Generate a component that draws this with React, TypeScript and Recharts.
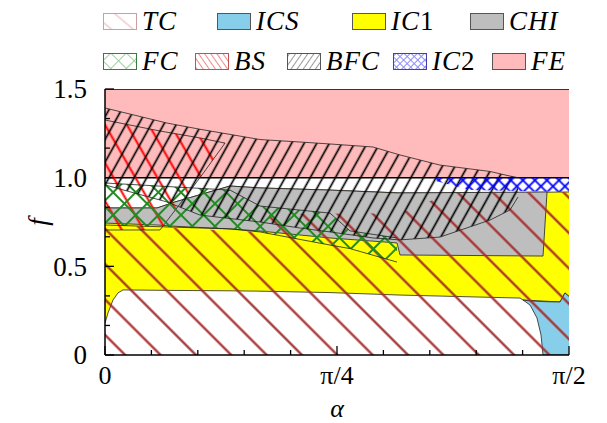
import { ComposedChart, Area, XAxis, YAxis, Legend } from 'recharts';

// alpha is given in degrees (0..90 <=> 0..pi/2), f is dimensionless
const alphaTicks = [0, 9, 18, 27, 36, 45, 54, 63, 72, 81, 90];
const alphaLabels: Record<number, string> = { 0: '0', 45: 'π/4', 90: 'π/2' };
const fTicks = [0, 1 / 6, 2 / 6, 0.5, 4 / 6, 5 / 6, 1, 7 / 6, 8 / 6, 1.5];
const fLabels = ['0', '', '', '0.5', '', '', '1.0', '', '', '1.5'];

// each phase region: alpha -> [lower f, upper f]
const feRegion = [
  { a: 0, r: [1.0, 1.5] },
  { a: 90, r: [1.0, 1.5] },
];

const ic1Region = [
  { a: 0, r: [0.18, 0.829] },
  { a: 0.58, r: [0.237, 0.829] },
  { a: 1.55, r: [0.31, 0.829] },
  { a: 2.52, r: [0.35, 0.829] },
  { a: 3.49, r: [0.367, 0.829] },
  { a: 10.09, r: [0.365, 0.829] },
  { a: 13.58, r: [0.364, 0.863] },
  { a: 24.25, r: [0.362, 0.953] },
  { a: 30.07, r: [0.36, 0.942] },
  { a: 43.64, r: [0.352, 0.93] },
  { a: 57.22, r: [0.338, 0.914] },
  { a: 80.5, r: [0.321, 0.915] },
  { a: 81.08, r: [0.31, 0.916] },
  { a: 88.26, r: [0.299, 0.919] },
  { a: 89.22, r: [0.35, 0.919] },
  { a: 90, r: [0.33, 0.919] },
];

const icsRegion = [
  { a: 81.08, r: [0.31, 0.31] },
  { a: 82.44, r: [0.282, 0.305] },
  { a: 83.79, r: [0.209, 0.303] },
  { a: 84.57, r: [0.113, 0.302] },
  { a: 84.96, r: [0, 0.301] },
  { a: 88.26, r: [0, 0.299] },
  { a: 89.22, r: [0, 0.35] },
  { a: 90, r: [0, 0.33] },
];

const chiRegion = [
  { a: 0, r: [0.744, 0.829] },
  { a: 10.09, r: [0.733, 0.829] },
  { a: 13.58, r: [0.726, 0.863] },
  { a: 24.25, r: [0.711, 0.953] },
  { a: 30.07, r: [0.699, 0.942] },
  { a: 43.64, r: [0.66, 0.93] },
  { a: 56.64, r: [0.632, 0.914] },
  { a: 57.22, r: [0.564, 0.914] },
  { a: 84.96, r: [0.558, 0.919] },
  { a: 85.74, r: [0.919, 0.919] },
];

const tcRegion = [
  { a: 0, r: [0, 0.733] },
  { a: 30.07, r: [0, 0.694] },
  { a: 32.0, r: [0, 0.795] },
  { a: 57.22, r: [0, 0.8] },
  { a: 66.92, r: [0, 0.914] },
  { a: 90, r: [0, 0.919] },
];

const bsRegion = [
  { a: 0, r: [0.705, 1.325] },
  { a: 10.67, r: [0.705, 1.263] },
  { a: 18.43, r: [1.0, 1.224] },
  { a: 23.28, r: [1.195, 1.195] },
];

const fcRegion = [
  { a: 0, r: [0.733, 0.97] },
  { a: 24.25, r: [0.711, 0.93] },
  { a: 30.07, r: [0.694, 0.84] },
  { a: 43.64, r: [0.62, 0.8] },
  { a: 47.52, r: [0.6, 0.7] },
  { a: 56.64, r: [0.524, 0.66] },
];

const bfcRegion = [
  { a: 0, r: [0.959, 1.393] },
  { a: 12.03, r: [0.863, 1.308] },
  { a: 18.43, r: [0.789, 1.273] },
  { a: 30.07, r: [0.75, 1.215] },
  { a: 37.82, r: [0.716, 1.201] },
  { a: 43.64, r: [0.694, 1.19] },
  { a: 51.98, r: [0.66, 1.173] },
  { a: 57.22, r: [0.649, 1.128] },
  { a: 64.98, r: [0.665, 1.071] },
  { a: 74.68, r: [0.761, 1.035] },
  { a: 78.56, r: [0.818, 1.009] },
  { a: 80.11, r: [0.891, 1.0] },
];

const ic2Region = [
  { a: 63.43, r: [0.987, 1.0] },
  { a: 70.8, r: [0.93, 1.0] },
  { a: 90, r: [0.919, 1.0] },
];

const legendNames = ['TC', 'ICS', 'IC1', 'CHI', 'FC', 'BS', 'BFC', 'IC2', 'FE'];

const FONT = "'Liberation Serif', 'DejaVu Serif', serif";

const BottomTick = (props: any) => {
  const { x, y, payload, index } = props;
  const major = index % 5 === 0;
  return (
    <g>
      <line x1={x} y1={y} x2={x} y2={y - (major ? 9 : 5)} stroke="#000" strokeWidth={1.3} />
      {major && (
        <text x={x} y={y + 29} textAnchor="middle" fontFamily={FONT} fontSize={26} fill="#000">
          {alphaLabels[payload.value]}
        </text>
      )}
    </g>
  );
};

const TopTick = (props: any) => {
  const { x, y, index } = props;
  const major = index % 5 === 0;
  return <line x1={x} y1={y} x2={x} y2={y + (major ? 9 : 5)} stroke="#000" strokeWidth={1.3} />;
};

const LeftTick = (props: any) => {
  const { x, y, index } = props;
  const major = index % 3 === 0;
  return (
    <g>
      <line x1={x} y1={y} x2={x + (major ? 9 : 5)} y2={y} stroke="#000" strokeWidth={1.3} />
      {major && (
        <text x={x - 18} y={y} dy="0.35em" textAnchor="end" fontFamily={FONT} fontSize={27} fill="#000">
          {fLabels[index]}
        </text>
      )}
    </g>
  );
};

const RightTick = (props: any) => {
  const { x, y, index } = props;
  const major = index % 3 === 0;
  return <line x1={x} y1={y} x2={x - (major ? 9 : 5)} y2={y} stroke="#000" strokeWidth={1.3} />;
};

const Swatch = ({ name }: { name: string }) => {
  const id = `lg-${name}`;
  const w = 34;
  const h = 17;
  let fill = '#fff';
  let border = '#555';
  let pat: any = null;
  if (name === 'TC') {
    border = '#c9a0a0';
    pat = (
      <pattern id={id} width="14" height="14" patternUnits="userSpaceOnUse" patternTransform="rotate(-50)">
        <line x1="7" y1="0" x2="7" y2="14" stroke="#eab0b0" strokeWidth="1" />
      </pattern>
    );
  } else if (name === 'ICS') fill = '#87ceeb';
  else if (name === 'IC1') fill = '#ffff00';
  else if (name === 'CHI') fill = '#bebebe';
  else if (name === 'FE') fill = '#ffbbbb';
  else if (name === 'FC') {
    border = '#3a7a3a';
    pat = (
      <pattern id={id} width="11" height="11" patternUnits="userSpaceOnUse" patternTransform="rotate(45)">
        <line x1="5.5" y1="0" x2="5.5" y2="11" stroke="#9fd09f" strokeWidth="1" />
        <line x1="0" y1="5.5" x2="11" y2="5.5" stroke="#9fd09f" strokeWidth="1" />
      </pattern>
    );
  } else if (name === 'BS') {
    border = '#c05050';
    pat = (
      <pattern id={id} width="5" height="5" patternUnits="userSpaceOnUse" patternTransform="rotate(-35)">
        <line x1="2.5" y1="0" x2="2.5" y2="5" stroke="#f08a8a" strokeWidth="1" />
      </pattern>
    );
  } else if (name === 'BFC') {
    border = '#555';
    pat = (
      <pattern id={id} width="5" height="5" patternUnits="userSpaceOnUse" patternTransform="rotate(35)">
        <line x1="2.5" y1="0" x2="2.5" y2="5" stroke="#999" strokeWidth="1" />
      </pattern>
    );
  } else if (name === 'IC2') {
    border = '#4040b0';
    pat = (
      <pattern id={id} width="5" height="5" patternUnits="userSpaceOnUse" patternTransform="rotate(45)">
        <line x1="2.5" y1="0" x2="2.5" y2="5" stroke="#8c8cff" strokeWidth="1" />
        <line x1="0" y1="2.5" x2="5" y2="2.5" stroke="#8c8cff" strokeWidth="1" />
      </pattern>
    );
  }
  return (
    <svg width={w} height={h} style={{ display: 'block' }}>
      {pat && <defs>{pat}</defs>}
      <rect x={0.5} y={0.5} width={w - 1} height={h - 1} fill={fill} stroke={border} strokeWidth={1} />
      {pat && <rect x={1} y={1} width={w - 2} height={h - 2} fill={`url(#${id})`} />}
    </svg>
  );
};

const LegendBox = () => {
  const spots = [
    [103, 13], [217, 13], [352, 13], [470, 13],
    [103, 53], [195, 53], [287, 53], [393, 53], [492, 53],
  ];
  return (
    <div style={{ position: 'relative', width: 607, height: 80 }}>
      {legendNames.map((name, i) => {
        const letters = name.replace(/\d/g, '');
        const digits = name.replace(/\D/g, '');
        return (
          <div
            key={name}
            style={{ position: 'absolute', left: spots[i][0], top: spots[i][1], display: 'flex', alignItems: 'center' }}
          >
            <Swatch name={name} />
            <span style={{ marginLeft: 5, fontFamily: FONT, fontSize: 27, lineHeight: '17px', letterSpacing: 1, color: '#000' }}>
              <i>{letters}</i>
              {digits}
            </span>
          </div>
        );
      })}
    </div>
  );
};

export default function App() {
  const outline = { stroke: '#222', strokeWidth: 0.8 };
  return (
    <div style={{ position: 'absolute', left: 0, top: 0, background: '#fff' }}>
      <ComposedChart width={607} height={423} margin={{ top: 9, right: 38, bottom: 8, left: 0 }}>
        <defs>
          <pattern id="hatchTC" width="25" height="25" patternUnits="userSpaceOnUse" patternTransform="rotate(-45)">
            <line x1="12.5" y1="0" x2="12.5" y2="25" stroke="#a52a2a" strokeWidth="2.2" />
          </pattern>
          <pattern id="hatchBS" width="19" height="19" patternUnits="userSpaceOnUse" patternTransform="rotate(-30)">
            <line x1="9.5" y1="0" x2="9.5" y2="19" stroke="#ff0000" strokeWidth="2" />
          </pattern>
          <pattern id="hatchBFC" width="11" height="11" patternUnits="userSpaceOnUse" patternTransform="rotate(29)">
            <line x1="5.5" y1="0" x2="5.5" y2="11" stroke="#000" strokeWidth="1.7" />
          </pattern>
          <pattern id="hatchFC" width="16" height="16" patternUnits="userSpaceOnUse" patternTransform="rotate(45)">
            <line x1="8" y1="0" x2="8" y2="16" stroke="#228b22" strokeWidth="2" />
            <line x1="0" y1="8" x2="16" y2="8" stroke="#228b22" strokeWidth="2" />
          </pattern>
          <pattern id="hatchIC2" width="8.5" height="8.5" patternUnits="userSpaceOnUse" patternTransform="rotate(45)">
            <line x1="4.25" y1="0" x2="4.25" y2="8.5" stroke="#0000ff" strokeWidth="1.8" />
            <line x1="0" y1="4.25" x2="8.5" y2="4.25" stroke="#0000ff" strokeWidth="1.8" />
          </pattern>
        </defs>

        <Legend verticalAlign="top" content={() => <LegendBox />} wrapperStyle={{ top: 0, left: 0, width: 607, height: 80 }} />

        <XAxis
          dataKey="a"
          type="number"
          domain={[0, 90]}
          allowDataOverflow
          ticks={alphaTicks}
          interval={0}
          tickSize={0}
          tickMargin={0}
          tickLine={false}
          tick={BottomTick}
          height={60}
          axisLine={{ stroke: '#000', strokeWidth: 1.5 }}
          label={{ value: 'α', position: 'insideBottom', offset: -2, fontFamily: FONT, fontStyle: 'italic', fontSize: 26, fill: '#000' }}
        />
        <XAxis
          xAxisId="top"
          orientation="top"
          dataKey="a"
          type="number"
          domain={[0, 90]}
          allowDataOverflow
          ticks={alphaTicks}
          interval={0}
          tickSize={0}
          tickMargin={0}
          tickLine={false}
          tick={TopTick}
          height={0}
          axisLine={{ stroke: '#000', strokeWidth: 1.5 }}
        />
        <YAxis
          type="number"
          domain={[0, 1.5]}
          allowDataOverflow
          ticks={fTicks}
          interval={0}
          tickSize={0}
          tickMargin={0}
          tickLine={false}
          tick={LeftTick}
          width={105}
          axisLine={{ stroke: '#000', strokeWidth: 1.5 }}
          label={{ value: 'f', angle: -90, position: 'center', dx: -15, fontFamily: FONT, fontStyle: 'italic', fontSize: 27, fill: '#000' }}
        />
        <YAxis
          yAxisId="right"
          orientation="right"
          type="number"
          domain={[0, 1.5]}
          allowDataOverflow
          ticks={fTicks}
          interval={0}
          tickSize={0}
          tickMargin={0}
          tickLine={false}
          tick={RightTick}
          width={0}
          axisLine={{ stroke: '#000', strokeWidth: 1.5 }}
        />

        <Area data={feRegion} dataKey="r" type="linear" fill="#ffbbbb" fillOpacity={1} stroke="#000" strokeWidth={1.5} isAnimationActive={false} />
        <Area data={ic1Region} dataKey="r" type="linear" fill="#ffff00" fillOpacity={1} {...outline} isAnimationActive={false} />
        <Area data={icsRegion} dataKey="r" type="linear" fill="#87ceeb" fillOpacity={1} {...outline} isAnimationActive={false} />
        <Area data={chiRegion} dataKey="r" type="linear" fill="#bebebe" fillOpacity={1} {...outline} isAnimationActive={false} />
        <Area data={tcRegion} dataKey="r" type="linear" fill="url(#hatchTC)" fillOpacity={1} stroke="none" isAnimationActive={false} />
        <Area data={bsRegion} dataKey="r" type="linear" fill="url(#hatchBS)" fillOpacity={1} {...outline} isAnimationActive={false} />
        <Area data={fcRegion} dataKey="r" type="linear" fill="url(#hatchFC)" fillOpacity={1} {...outline} isAnimationActive={false} />
        <Area data={bfcRegion} dataKey="r" type="linear" fill="url(#hatchBFC)" fillOpacity={1} {...outline} isAnimationActive={false} />
        <Area data={ic2Region} dataKey="r" type="linear" fill="url(#hatchIC2)" fillOpacity={1} stroke="none" isAnimationActive={false} />
      </ComposedChart>
    </div>
  );
}
